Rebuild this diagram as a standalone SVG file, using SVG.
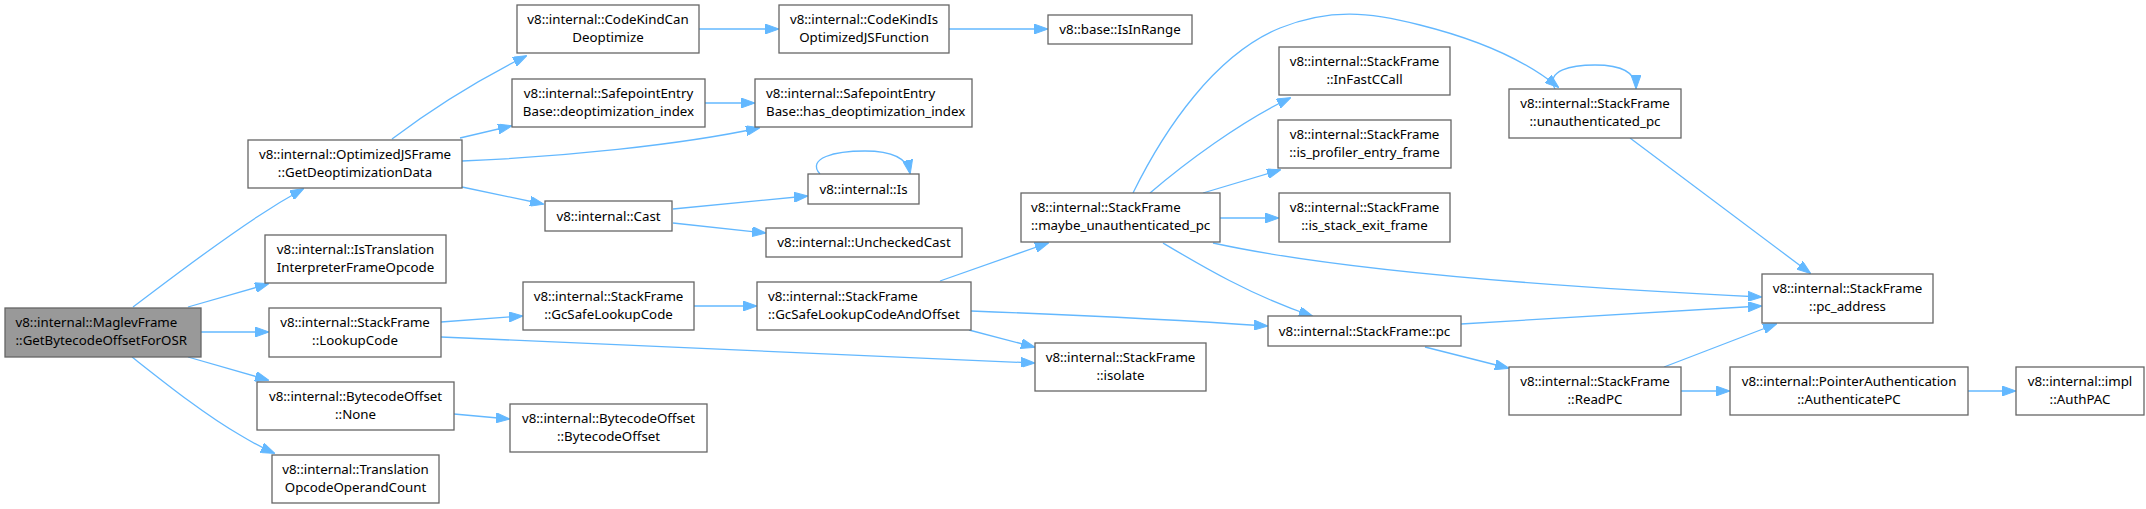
<svg xmlns="http://www.w3.org/2000/svg" width="2146" height="509" viewBox="0 0 2146 509">
<style>
.n rect{fill:#ffffff;stroke:#666666;stroke-width:1.3}
.root rect{fill:#999999}
text{font-family:"Noto Sans","Open Sans","DejaVu Sans",sans-serif;font-size:13.3px;fill:#000000}
.c{text-anchor:middle}
.l{text-anchor:start}
#edges path{fill:none;stroke:#63b8ff;stroke-width:1.3;marker-end:url(#ah)}
</style>
<defs>
<marker id="ah" markerWidth="14" markerHeight="10" refX="13" refY="5" orient="auto" markerUnits="userSpaceOnUse">
<path d="M0,0 L14,5 L0,10 z" fill="#63b8ff" stroke="#63b8ff" stroke-width="1"/>
</marker>
</defs>
<rect width="2146" height="509" fill="#ffffff"/>
<g id="edges">
<path d="M133,307 C165,283 210,248 257,217 C272,207 285,199 303,189"/>
<path d="M188,307 L268,284"/>
<path d="M201,332 L268,332"/>
<path d="M188,357 L268,380"/>
<path d="M132,357 C165,383 205,415 240,435 C250,441 260,447 274,453"/>
<path d="M392,139 C425,114 470,84 526,56"/>
<path d="M460,138 L511,126"/>
<path d="M462,161 C560,157 680,145 759,128"/>
<path d="M462,187 L543,204"/>
<path d="M699,29 L778,29"/>
<path d="M949,29 L1047,29"/>
<path d="M705,103 L754,103"/>
<path d="M673,209 L807,196"/>
<path d="M673,223 L765,233"/>
<path d="M820,174 C806,158 835,151 865,151 C890,151 907,157 910,173"/>
<path d="M441,322 L522,316"/>
<path d="M441,337 L1034,363"/>
<path d="M694,306 L756,306"/>
<path d="M940,281 L1048,243"/>
<path d="M971,311 C1080,315 1180,320 1267,326"/>
<path d="M969,330 L1034,347"/>
<path d="M1133,193 C1165,128 1215,55 1280,28 C1330,8 1370,12 1420,25 C1480,40 1525,60 1558,87"/>
<path d="M1150,193 C1185,163 1240,122 1290,98"/>
<path d="M1203,193 L1280,170"/>
<path d="M1220,218 L1278,218"/>
<path d="M1213,243 C1300,262 1450,282 1761,297"/>
<path d="M1163,243 C1200,265 1250,295 1312,316"/>
<path d="M1555,89 C1545,70 1572,65 1595,65 C1618,65 1636,70 1636,88"/>
<path d="M1630,138 L1810,273"/>
<path d="M1461,324 L1761,306"/>
<path d="M1425,347 L1508,368"/>
<path d="M1664,367 L1776,324"/>
<path d="M1681,391 L1729,391"/>
<path d="M1968,391 L2015,391"/>
<path d="M454,414 L509,419"/>
</g>
<g id="n0" class="n root"><rect x="5" y="308" width="196" height="49"/><text class="l" x="15.5" y="326.7">v8::internal::MaglevFrame</text><text class="l" x="15.5" y="345.3">::GetBytecodeOffsetForOSR</text></g>
<g id="n1" class="n"><rect x="248" y="140" width="214" height="48"/><text class="c" x="355" y="158.5">v8::internal::OptimizedJSFrame</text><text class="c" x="355" y="177">::GetDeoptimizationData</text></g>
<g id="n2" class="n"><rect x="265" y="235" width="181" height="48"/><text class="c" x="355.5" y="253.5">v8::internal::IsTranslation</text><text class="c" x="355.5" y="272">InterpreterFrameOpcode</text></g>
<g id="n3" class="n"><rect x="269" y="308" width="172" height="49"/><text class="c" x="355" y="326.7">v8::internal::StackFrame</text><text class="c" x="355" y="345.3">::LookupCode</text></g>
<g id="n4" class="n"><rect x="257" y="382" width="197" height="48"/><text class="c" x="355.5" y="400.5">v8::internal::BytecodeOffset</text><text class="c" x="355.5" y="419">::None</text></g>
<g id="n5" class="n"><rect x="272" y="455" width="167" height="48"/><text class="c" x="355.5" y="473.5">v8::internal::Translation</text><text class="c" x="355.5" y="492">OpcodeOperandCount</text></g>
<g id="n6" class="n"><rect x="517" y="5" width="182" height="48"/><text class="c" x="608" y="23.5">v8::internal::CodeKindCan</text><text class="c" x="608" y="42">Deoptimize</text></g>
<g id="n7" class="n"><rect x="779" y="5" width="170" height="48"/><text class="c" x="864" y="23.5">v8::internal::CodeKindIs</text><text class="c" x="864" y="42">OptimizedJSFunction</text></g>
<g id="n8" class="n"><rect x="1048" y="15" width="144" height="29"/><text class="c" x="1120" y="34">v8::base::IsInRange</text></g>
<g id="n9" class="n"><rect x="512" y="79" width="193" height="48"/><text class="c" x="608.5" y="97.5">v8::internal::SafepointEntry</text><text class="c" x="608.5" y="116">Base::deoptimization_index</text></g>
<g id="n10" class="n"><rect x="755" y="79" width="217" height="48"/><text class="l" x="766" y="97.5">v8::internal::SafepointEntry</text><text class="l" x="766" y="116">Base::has_deoptimization_index</text></g>
<g id="n11" class="n"><rect x="545" y="201" width="127" height="30"/><text class="c" x="608.5" y="220.5">v8::internal::Cast</text></g>
<g id="n12" class="n"><rect x="808" y="174" width="111" height="30"/><text class="c" x="863.5" y="193.5">v8::internal::Is</text></g>
<g id="n13" class="n"><rect x="766" y="228" width="196" height="29"/><text class="c" x="864" y="247">v8::internal::UncheckedCast</text></g>
<g id="n14" class="n"><rect x="523" y="282" width="171" height="48"/><text class="c" x="608.5" y="300.5">v8::internal::StackFrame</text><text class="c" x="608.5" y="319">::GcSafeLookupCode</text></g>
<g id="n15" class="n"><rect x="757" y="282" width="214" height="48"/><text class="l" x="768" y="300.5">v8::internal::StackFrame</text><text class="l" x="768" y="319">::GcSafeLookupCodeAndOffset</text></g>
<g id="n16" class="n"><rect x="510" y="404" width="197" height="48"/><text class="c" x="608.5" y="422.5">v8::internal::BytecodeOffset</text><text class="c" x="608.5" y="441">::BytecodeOffset</text></g>
<g id="n17" class="n"><rect x="1021" y="193" width="199" height="49"/><text class="l" x="1031" y="211.7">v8::internal::StackFrame</text><text class="l" x="1031" y="230.3">::maybe_unauthenticated_pc</text></g>
<g id="n18" class="n"><rect x="1279" y="47" width="171" height="48"/><text class="c" x="1364.5" y="65.5">v8::internal::StackFrame</text><text class="c" x="1364.5" y="84">::InFastCCall</text></g>
<g id="n19" class="n"><rect x="1278" y="120" width="173" height="48"/><text class="c" x="1364.5" y="138.5">v8::internal::StackFrame</text><text class="c" x="1364.5" y="157">::is_profiler_entry_frame</text></g>
<g id="n20" class="n"><rect x="1279" y="193" width="171" height="49"/><text class="c" x="1364.5" y="211.7">v8::internal::StackFrame</text><text class="c" x="1364.5" y="230.3">::is_stack_exit_frame</text></g>
<g id="n21" class="n"><rect x="1035" y="343" width="171" height="48"/><text class="c" x="1120.5" y="361.5">v8::internal::StackFrame</text><text class="c" x="1120.5" y="380">::isolate</text></g>
<g id="n22" class="n"><rect x="1268" y="316" width="193" height="30"/><text class="c" x="1364.5" y="335.5">v8::internal::StackFrame::pc</text></g>
<g id="n23" class="n"><rect x="1509" y="89" width="172" height="49"/><text class="c" x="1595" y="107.7">v8::internal::StackFrame</text><text class="c" x="1595" y="126.3">::unauthenticated_pc</text></g>
<g id="n24" class="n"><rect x="1762" y="274" width="171" height="49"/><text class="c" x="1847.5" y="292.7">v8::internal::StackFrame</text><text class="c" x="1847.5" y="311.3">::pc_address</text></g>
<g id="n25" class="n"><rect x="1509" y="367" width="172" height="48"/><text class="c" x="1595" y="385.5">v8::internal::StackFrame</text><text class="c" x="1595" y="404">::ReadPC</text></g>
<g id="n26" class="n"><rect x="1730" y="367" width="238" height="48"/><text class="c" x="1849" y="385.5">v8::internal::PointerAuthentication</text><text class="c" x="1849" y="404">::AuthenticatePC</text></g>
<g id="n27" class="n"><rect x="2016" y="367" width="128" height="48"/><text class="c" x="2080" y="385.5">v8::internal::impl</text><text class="c" x="2080" y="404">::AuthPAC</text></g>
</svg>
